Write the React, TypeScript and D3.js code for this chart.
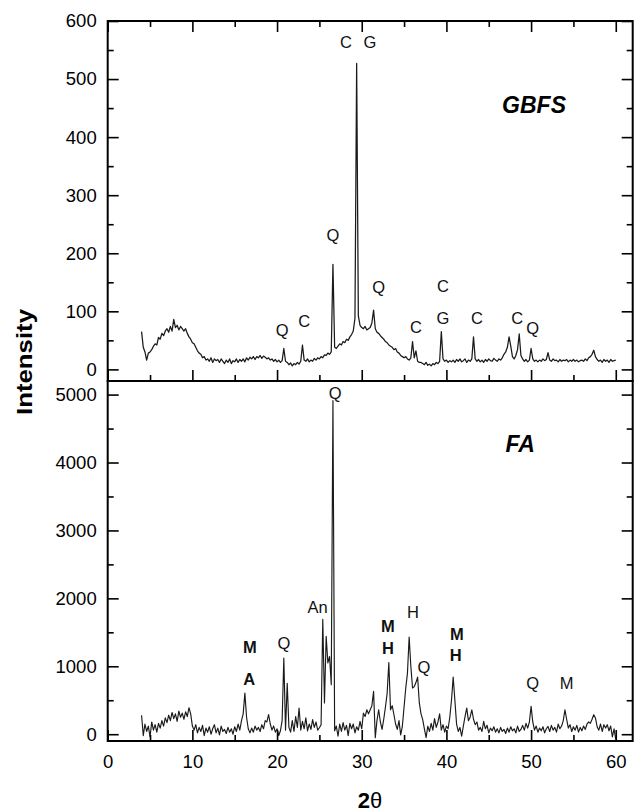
import React, { useEffect, useRef } from 'react';
import * as d3 from 'd3';

// 2θ grid of the scans: 4° to 60° every 0.2°
const startAngle = 4;
const angleStep = 0.2;

// GBFS intensity, one row per degree (4.0, 4.2, 4.4, 4.6, 4.8 ...)
const gbfsIntensity = [
  65, 38, 30, 16, 28,
  30, 34, 40, 44, 42,
  55, 52, 62, 58, 66,
  70, 64, 74, 66, 86,
  72, 76, 68, 74, 70,
  66, 70, 62, 56, 52,
  46, 44, 38, 32, 28,
  26, 20, 22, 16, 18,
  14, 20, 12, 18, 15,
  17, 12, 18, 14, 10,
  16, 12, 18, 10, 15,
  13, 18, 12, 17, 14,
  18, 13, 20, 16, 21,
  18, 22, 17, 22, 20,
  24, 19, 23, 21, 18,
  20, 16, 18, 14, 17,
  13, 16, 12, 15, 36,
  14, 12, 8, 11, 6,
  10, 8, 12, 9, 14,
  42, 16, 14, 18, 13,
  16, 14, 19, 16, 20,
  18, 22, 20, 25, 24,
  28, 26, 30, 181, 38,
  36, 40, 44, 42, 48,
  46, 52, 50, 56, 60,
  66, 88, 527, 92, 76,
  72, 70, 74, 68, 70,
  72, 80, 102, 70, 64,
  62, 58, 55, 52, 48,
  46, 42, 40, 38, 34,
  36, 30, 28, 24, 22,
  20, 22, 18, 16, 20,
  48, 20, 32, 14, 12,
  12, 10, 8, 12, 7,
  9, 6, 10, 8, 12,
  10, 14, 65, 18, 14,
  16, 12, 15, 13, 16,
  12, 17, 14, 18, 13,
  15, 18, 12, 16, 14,
  18, 56, 18, 14, 17,
  13, 16, 12, 17, 14,
  18, 15, 14, 19, 16,
  14, 18, 16, 20, 26,
  30, 38, 56, 40, 22,
  18, 24, 34, 61, 24,
  18, 14, 17, 13, 16,
  36, 18, 14, 16, 13,
  16, 14, 18, 15, 17,
  29, 16, 14, 18, 15,
  16, 13, 17, 14, 16,
  15, 17, 13, 16, 14,
  17, 14, 16, 13, 15,
  16, 14, 18, 15, 20,
  22, 26, 33, 22, 17,
  14, 16, 12, 17, 14,
  16, 12, 17, 14, 15,
  16,
];

// FA intensity, same grid
const faIntensity = [
  280, -20, 150, 40, 120,
  -40, 180, 60, 140, 30,
  160, 90, 200, 120, 240,
  170, 280, 200, 320, 230,
  300, 190, 340, 250, 310,
  220, 330, 260, 390, 300,
  120, 60, 140, 20, 100,
  40, 130, -20, 90, 30,
  110, 0, 80, 140, 20,
  90, -10, 120, 40, 70,
  10, 100, 30, 80, 0,
  110, 40, 150, 60, 200,
  300, 605, 250, 80, 20,
  90, 30, 120, 60, 100,
  40, 140, 80, 200, 180,
  290, 150, 60, 120, 30,
  80, -20, 50, 200, 1120,
  60, 750, 100, 30, 200,
  40, 260, 100, 385, 60,
  190, 80, 240, 50, 150,
  70, 215, 100, 180, 60,
  95, 140, 1690, 460, 1440,
  1050, 1145, 730, 4910, 50,
  120, -30, 150, 40, 170,
  60, 130, -20, 160, 80,
  150, 20, 110, 60, 190,
  80, 310, 260, 360, 300,
  360, 420, 630, -50, 200,
  360, 180, 70, 220, 400,
  600, 1055, 360, 420, 290,
  150, 70, 200, -10, 120,
  400, 680, 900, 1430, 1000,
  680, 700, 760, 840, 460,
  300, 215, 80, -50, 120,
  40, 160, 60, 230, 100,
  180, 300, 60, 140, 30,
  120, 80, 250, 500, 840,
  500, 150, 40, 100, -30,
  120, 260, 385, 200, 250,
  360, 220, 140, 180, 60,
  100, 40, 190, 80, 130,
  20, 90, 50, 110, 30,
  80, 20, 100, 40, 70,
  10, 90, 30, 110, 50,
  80, 20, 120, 40, 70,
  130, 60, 160, 90, 180,
  410, 180, 60, 120, 30,
  90, 50, 110, 20, 80,
  115, 40, 130, 60, 100,
  30, 150, 80, 120, 200,
  360, 220, 90, 140, 40,
  110, 60, 130, 30, 100,
  50, 120, 70, 150, 180,
  160, 220, 287, 240, 110,
  60, 150, 40, 140, 90,
  140, 50, 120, -40, 80,
  -80,
];

const xTicks = [0, 10, 20, 30, 40, 50, 60];
const xMinorTicks = [5, 15, 25, 35, 45, 55];
const gbfsTicks = [0, 100, 200, 300, 400, 500, 600];
const gbfsMinorTicks = [50, 150, 250, 350, 450, 550];
const faTicks = [0, 1000, 2000, 3000, 4000, 5000];
const faMinorTicks = [500, 1500, 2500, 3500, 4500];

// phase labels: text, 2θ, intensity, bold
const gbfsPhases: [string, number, number, boolean][] = [
  ['C', 28.14, 564, false],
  ['G', 30.97, 564, false],
  ['Q', 26.6, 231, false],
  ['Q', 20.6, 68, false],
  ['C', 23.2, 83, false],
  ['Q', 32.0, 142, false],
  ['C', 36.4, 73, false],
  ['C', 39.6, 144, false],
  ['G', 39.6, 88, false],
  ['C', 43.6, 88, false],
  ['C', 48.35, 88, false],
  ['Q', 50.2, 71, false],
];
const faPhases: [string, number, number, boolean][] = [
  ['Q', 26.85, 5024, false],
  ['An', 24.8, 1875, false],
  ['Q', 20.8, 1345, false],
  ['M', 16.8, 1286, true],
  ['A', 16.7, 815, true],
  ['M', 33.1, 1595, true],
  ['H', 33.1, 1270, true],
  ['H', 36.05, 1800, false],
  ['Q', 37.35, 990, false],
  ['M', 41.25, 1476, true],
  ['H', 41.1, 1167, true],
  ['Q', 50.2, 755, false],
  ['M', 54.2, 755, false],
];

const font = '"Liberation Sans", Arial, Helvetica, sans-serif';

const App = () => {
  const svgRef = useRef<SVGSVGElement>(null);

  useEffect(() => {
    const svg = d3.select(svgRef.current);
    svg.selectAll('*').remove();

    const left = 107.7;
    const right = 632.7;
    const x = d3.scaleLinear().domain([0, 62]).range([left, right]);

    const panels = [
      {
        name: 'GBFS', values: gbfsIntensity, top: 21, bottom: 381, domain: [-20, 600],
        ticks: gbfsTicks, minor: gbfsMinorTicks, phases: gbfsPhases, nameAt: [50.35, 455], topAxis: true, xLabels: false,
        width: 1.25,
      },
      {
        name: 'FA', values: faIntensity, top: 381, bottom: 741, domain: [-100, 5200],
        ticks: faTicks, minor: faMinorTicks, phases: faPhases, nameAt: [48.7, 4270], topAxis: false, xLabels: true,
        width: 1.15,
      },
    ];

    panels.forEach((p) => {
      const y = d3.scaleLinear().domain(p.domain).range([p.bottom, p.top]);
      const g = svg.append('g');

      const line = d3
        .line<number>()
        .x((d, i) => x(startAngle + i * angleStep))
        .y((d) => y(d));

      g.append('path')
        .datum(p.values)
        .attr('fill', 'none')
        .attr('stroke', '#1a1a1a')
        .attr('stroke-width', p.width)
        .attr('stroke-linejoin', 'round')
        .attr('d', line);

      const styleAxis = (sel) => {
        sel.select('.domain').remove();
        sel.selectAll('line').attr('stroke', '#000').attr('stroke-width', 1.6);
        sel.selectAll('text').attr('font-family', font).attr('font-size', 18.5).attr('fill', '#000');
      };

      // left
      g.append('g')
        .attr('transform', `translate(${left},0)`)
        .call(d3.axisLeft(y).tickValues(p.ticks).tickSizeInner(-11).tickSizeOuter(0).tickPadding(11).tickFormat(d3.format('d')))
        .call(styleAxis);
      g.append('g')
        .attr('transform', `translate(${left},0)`)
        .call(d3.axisLeft(y).tickValues(p.minor).tickSize(-6).tickFormat(() => ''))
        .call(styleAxis);
      // right
      g.append('g')
        .attr('transform', `translate(${right},0)`)
        .call(d3.axisRight(y).tickValues(p.ticks).tickSize(-11).tickFormat(() => ''))
        .call(styleAxis);
      g.append('g')
        .attr('transform', `translate(${right},0)`)
        .call(d3.axisRight(y).tickValues(p.minor).tickSize(-6).tickFormat(() => ''))
        .call(styleAxis);
      // bottom
      g.append('g')
        .attr('transform', `translate(0,${p.bottom})`)
        .call(
          d3.axisBottom(x).tickValues(xTicks).tickSizeInner(-11).tickSizeOuter(0).tickPadding(14)
            .tickFormat(p.xLabels ? d3.format('d') : () => '')
        )
        .call(styleAxis);
      g.append('g')
        .attr('transform', `translate(0,${p.bottom})`)
        .call(d3.axisBottom(x).tickValues(xMinorTicks).tickSize(-6).tickFormat(() => ''))
        .call(styleAxis);
      if (p.topAxis) {
        g.append('g')
          .attr('transform', `translate(0,${p.top})`)
          .call(d3.axisTop(x).tickValues(xTicks).tickSize(-11).tickFormat(() => ''))
          .call(styleAxis);
        g.append('g')
          .attr('transform', `translate(0,${p.top})`)
          .call(d3.axisTop(x).tickValues(xMinorTicks).tickSize(-6).tickFormat(() => ''))
          .call(styleAxis);
      }

      g.append('rect')
        .attr('x', left)
        .attr('y', p.top)
        .attr('width', right - left)
        .attr('height', p.bottom - p.top)
        .attr('fill', 'none')
        .attr('stroke', '#000')
        .attr('stroke-width', 2);

      g.selectAll('text.phase')
        .data(p.phases)
        .enter()
        .append('text')
        .attr('class', 'phase')
        .attr('x', (d) => x(d[1]))
        .attr('y', (d) => y(d[2]))
        .attr('dy', '0.36em')
        .attr('text-anchor', 'middle')
        .attr('font-family', font)
        .attr('font-size', 16.5)
        .attr('font-weight', (d) => (d[3] ? 'bold' : 'normal'))
        .attr('fill', '#111')
        .text((d) => d[0]);

      g.append('text')
        .attr('x', x(p.nameAt[0]))
        .attr('y', y(p.nameAt[1]))
        .attr('dy', '0.36em')
        .attr('text-anchor', 'middle')
        .attr('font-family', font)
        .attr('font-size', 23)
        .attr('font-weight', 'bold')
        .attr('font-style', 'italic')
        .text(p.name);
    });

    svg.append('text')
      .attr('transform', 'translate(24.5,362) rotate(-90)')
      .attr('dy', '0.36em')
      .attr('text-anchor', 'middle')
      .attr('font-family', font)
      .attr('font-size', 22)
      .attr('font-weight', 'bold')
      .attr('textLength', 106)
      .attr('lengthAdjust', 'spacingAndGlyphs')
      .text('Intensity');

    const xt = svg.append('text')
      .attr('x', 370)
      .attr('y', 808)
      .attr('text-anchor', 'middle')
      .attr('font-family', font)
      .attr('font-size', 22)
      .attr('font-weight', 'bold');
    xt.append('tspan').text('2');
    xt.append('tspan').attr('font-weight', 'normal').text('θ');
  }, []);

  return (
    <div style={{ position: 'absolute', left: 0, top: 0, background: '#fff' }}>
      <svg ref={svgRef} width={636} height={812} style={{ display: 'block' }}></svg>
    </div>
  );
};

export default App;
